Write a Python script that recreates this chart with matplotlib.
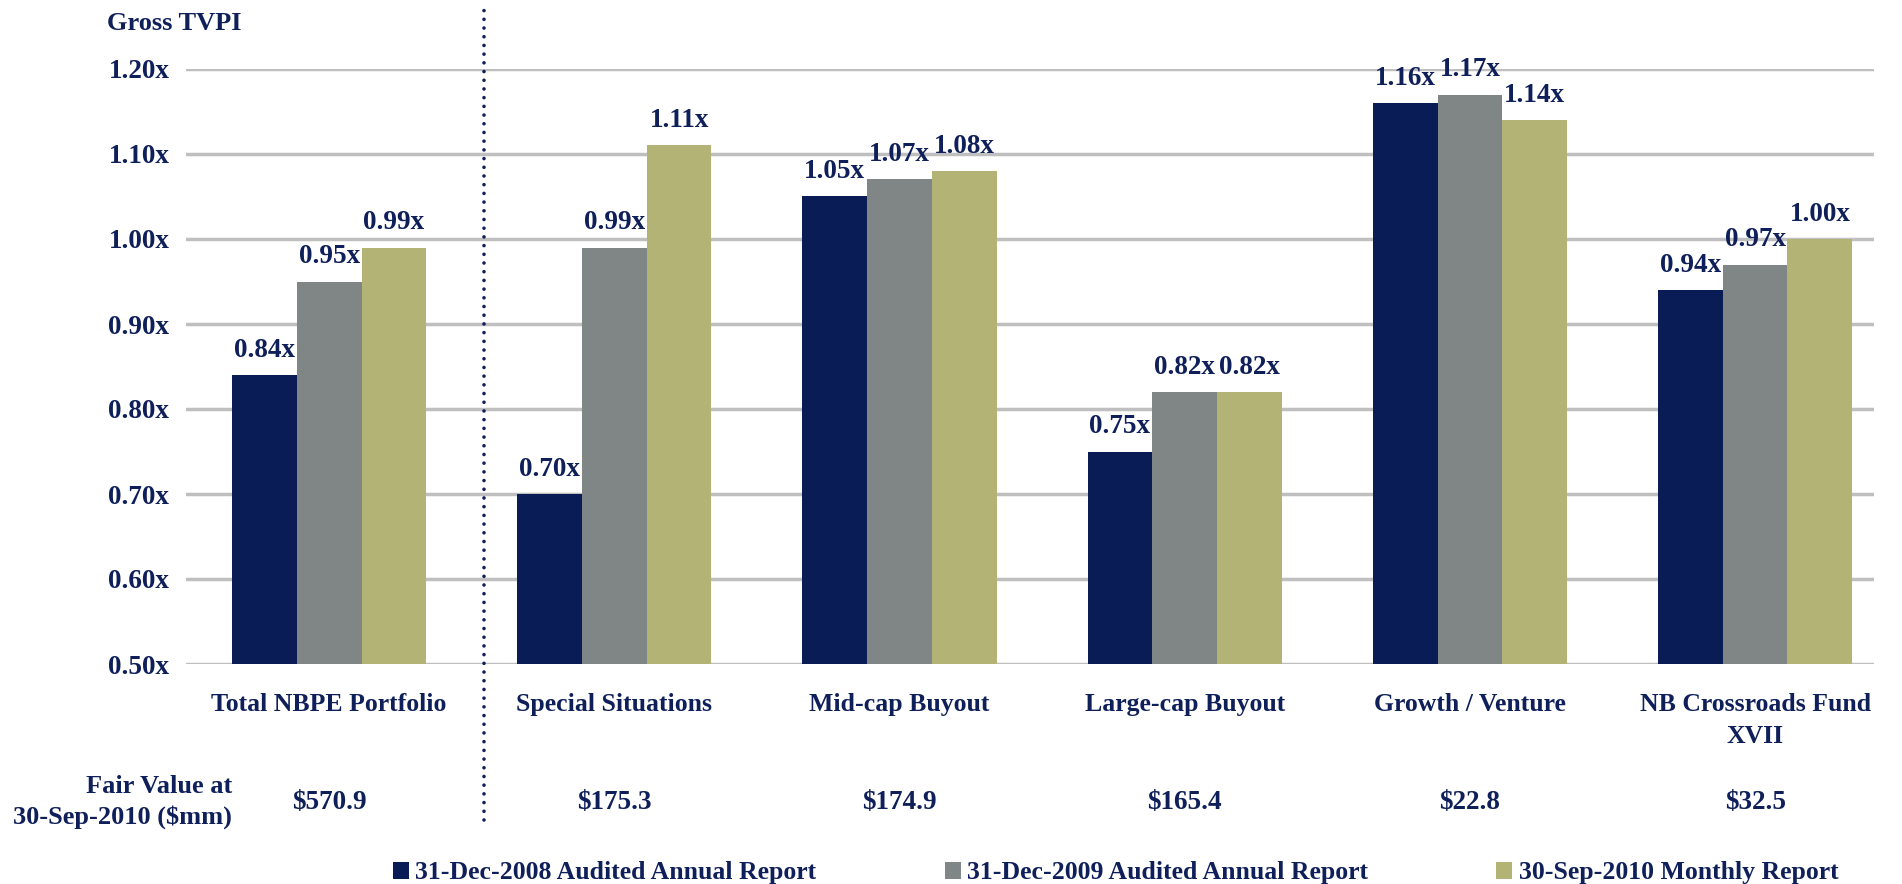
import matplotlib
matplotlib.use("Agg")
import matplotlib.pyplot as plt
import numpy as np
from matplotlib.patches import Patch

categories = ["Total NBPE Portfolio", "Special Situations", "Mid-cap Buyout",
              "Large-cap Buyout", "Growth / Venture", "NB Crossroads Fund\nXVII"]
series_names = ["31-Dec-2008 Audited Annual Report",
                "31-Dec-2009 Audited Annual Report",
                "30-Sep-2010 Monthly Report"]
dec2008 = [0.84, 0.70, 1.05, 0.75, 1.16, 0.94]
dec2009 = [0.95, 0.99, 1.07, 0.82, 1.17, 0.97]
sep2010 = [0.99, 1.11, 1.08, 0.82, 1.14, 1.00]
fair_values = ["$570.9", "$175.3", "$174.9", "$165.4", "$22.8", "$32.5"]
yticks = [0.50, 0.60, 0.70, 0.80, 0.90, 1.00, 1.10, 1.20]

colors = ["#0A1C55", "#7F8685", "#B3B376"]
txt = "#0F1F5A"

plt.rcParams['font.family'] = ['Liberation Serif', 'DejaVu Serif']
plt.rcParams['font.weight'] = 'bold'

fig = plt.figure(figsize=(19.02, 8.84), dpi=100)
ax = fig.add_axes([186 / 1902, 1 - 664 / 884, 1688 / 1902, 595 / 884])

x = np.arange(len(categories))
w = 0.227
series = [dec2008, dec2009, sep2010]
for i, (vals, c, name) in enumerate(zip(series, colors, series_names)):
    ax.bar(x + (i - 1) * w, np.array(vals) - 0.5, w, bottom=0.5,
           color=c, label=name, zorder=3)
    for xi, v in zip(x + (i - 1) * w, vals):
        ax.annotate(f"{v:.2f}x", (xi, v), xytext=(0, 13), textcoords="offset points",
                    ha="center", va="baseline", fontsize=19.5, fontweight="bold", color=txt)

ax.set_xlim(-0.502, 5.417)
ax.set_ylim(0.5, 1.2)
ax.set_yticks(yticks)
ax.set_yticklabels([f"{t:.2f}x" for t in yticks], fontsize=19.5, fontweight="bold", color=txt)
ax.tick_params(axis="y", length=0, pad=12)
ax.set_xticks([])
for s in ax.spines.values():
    s.set_visible(False)
ax.grid(axis="y", color="#BFBFBF", linewidth=2.5, zorder=0)
ax.set_axisbelow(True)

for xi, cat in zip(x, categories):
    ax.text(xi, -0.048, cat, transform=ax.get_xaxis_transform(), ha="center", va="top",
            fontsize=18.5, fontweight="bold", color=txt, linespacing=1.55)
for xi, fv in zip(x, fair_values):
    ax.text(xi, -0.2336, fv, transform=ax.get_xaxis_transform(), ha="center", va="center",
            fontsize=19.5, fontweight="bold", color=txt)

fig.text(232 / 1902, 1 - 802 / 884, "Fair Value at\n30-Sep-2010 ($mm)", ha="right", va="center",
         fontsize=19, fontweight="bold", color=txt, linespacing=1.34)
fig.text(107 / 1902, 1 - 24 / 884, "Gross TVPI", ha="left", va="center",
         fontsize=19, fontweight="bold", color=txt)

ax.axvline(0.543, ymin=-0.262, ymax=1.099, clip_on=False, color=txt,
           linestyle=(0, (0.01, 2.4)), dash_capstyle="round", linewidth=2.6, zorder=4)

handles = [Patch(facecolor=c, label=n) for c, n in zip(colors, series_names)]
fig.legend(handles=handles, loc="center", bbox_to_anchor=(0.5865, 0.0125), ncol=3,
           frameon=False, fontsize=18.5, handlelength=0.62, handleheight=0.66,
           handletextpad=0.25, columnspacing=5.0, labelcolor=txt, borderpad=0)

fig.savefig("out.png", dpi=100)
